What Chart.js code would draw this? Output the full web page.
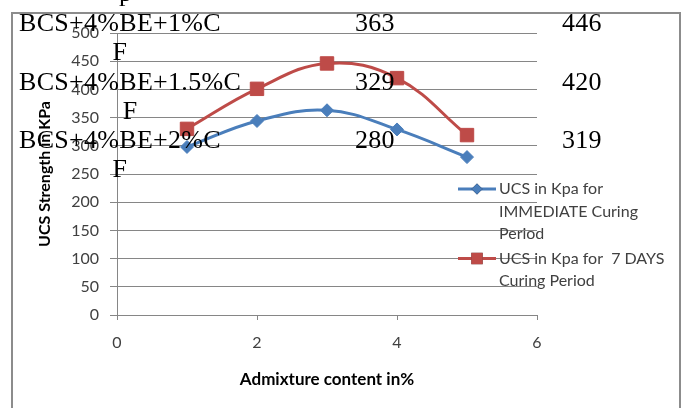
<!DOCTYPE html>
<html>
<head>
<meta charset="utf-8">
<script src="https://cdn.jsdelivr.net/npm/chart.js@4.4.1/dist/chart.umd.min.js"></script>
<style>
  body { margin: 0; background: #fff; }
  #wrap { position: relative; width: 681px; height: 408px; overflow: hidden; }
  #grafico { position: absolute; left: 0; top: 0; }
  #moldura { position: absolute; left: 11px; top: 12px; width: 666px; height: 430px; border: 2px solid #8c8c8c; }
  .tabela { position: absolute; font-family: "Liberation Serif", "Times New Roman", serif; font-size: 26px;
            line-height: 29.2px; color: #000; letter-spacing: 0.3px; white-space: nowrap; }
  .linha { text-align: center; }
</style>
</head>
<body>
<div id="wrap">
  <canvas id="grafico" width="681" height="408"></canvas>
  <div id="moldura"></div>
  <div id="textos"></div>
</div>
<script>
// ======= Dados =======
const admixture = [1, 2, 3, 4, 5];
const ucsImediato = [298, 344, 363, 329, 280];
const ucsSeteDias = [330, 401, 446, 420, 319];
const serieNomes = ["UCS in Kpa for IMMEDIATE Curing Period", "UCS in Kpa for  7 DAYS Curing Period"];
const yTicks = [0, 50, 100, 150, 200, 250, 300, 350, 400, 450, 500];
const xTicks = [0, 2, 4, 6];

// texto da tabela por trás do gráfico
const linhaTopo = "p";
const misturas = ["BCS+4%BE+1%C", "BCS+4%BE+1.5%C", "BCS+4%BE+2%C"];
const misturaFim = "F";
const colImediato = ["363", "329", "280"];
const colSeteDias = ["446", "420", "319"];

// ======= Tabela (texto sobreposto) =======
const textos = document.getElementById("textos");
const topoLinha = 8.1;   // topo da primeira linha da tabela
const passoLinha = 58.4; // duas linhas por linha da tabela

function addTexto(html, left, top, cls) {
  const d = document.createElement("div");
  d.className = "tabela" + (cls ? " " + cls : "");
  d.style.left = left + "px";
  d.style.top = top + "px";
  d.innerHTML = html;
  textos.appendChild(d);
  return d;
}

addTexto(linhaTopo, 119, topoLinha - passoLinha / 2 - 1);
misturas.forEach((m, i) => {
  const top = topoLinha + i * passoLinha;
  addTexto(`<div class="linha">${m}</div><div class="linha">${misturaFim}</div>`, 19, top);
  addTexto(colImediato[i], 355, top);
  addTexto(colSeteDias[i], 562, top);
});

// ======= Legenda =======
const legendaPlugin = {
  id: "legendaLateral",
  afterDraw(chart) {
    const ctx = chart.ctx;
    const x0 = 458, xTexto = 499, maxLarg = 172, altLinha = 22.5;
    let y = 189;
    ctx.save();
    ctx.font = "16px Lato";
    ctx.textBaseline = "middle";
    chart.data.datasets.forEach(ds => {
      // quebra das palavras
      const palavras = ds.label.split(" ");
      const linhas = [];
      let atual = "";
      palavras.forEach(p => {
        const teste = atual === "" ? p : atual + " " + p;
        if (ctx.measureText(teste).width > maxLarg && atual.trim() !== "") {
          linhas.push(atual);
          atual = p;
        } else {
          atual = teste;
        }
      });
      linhas.push(atual);

      ctx.strokeStyle = ds.borderColor;
      ctx.lineWidth = 3;
      ctx.beginPath();
      ctx.moveTo(x0, y);
      ctx.lineTo(xTexto - 3, y);
      ctx.stroke();
      ctx.beginPath();
      Chart.helpers.drawPoint(ctx, {
        pointStyle: ds.pointStyle, radius: ds.pointRadius * 0.85, borderWidth: 0
      }, (x0 + xTexto - 3) / 2, y);
      ctx.fillStyle = ds.borderColor;
      ctx.fill();

      ctx.fillStyle = "#404040";
      linhas.forEach((l, i) => ctx.fillText(l, xTexto, y + i * altLinha));
      y += linhas.length * altLinha + 2;
    });
    ctx.restore();
  }
};

// ======= Gráfico =======
const gridCor = "#868686";
new Chart(document.getElementById("grafico"), {
  type: "line",
  data: {
    datasets: [
      {
        label: serieNomes[0],
        data: admixture.map((x, i) => ({ x, y: ucsImediato[i] })),
        borderColor: "#4A7EBB",
        backgroundColor: "#4A7EBB",
        borderWidth: 3,
        pointStyle: "rectRot",
        pointRadius: 6.5,
        pointBorderWidth: 1,
        tension: 0.4
      },
      {
        label: serieNomes[1],
        data: admixture.map((x, i) => ({ x, y: ucsSeteDias[i] })),
        borderColor: "#BE4B48",
        backgroundColor: "#BE4B48",
        borderWidth: 3,
        pointStyle: "rect",
        pointRadius: 9.5,
        pointBorderWidth: 1,
        tension: 0.4
      }
    ]
  },
  options: {
    responsive: false,
    animation: false,
    devicePixelRatio: 1,
    layout: { padding: { top: 33, right: 144, left: 0, bottom: 0 } },
    plugins: { legend: { display: false }, tooltip: { enabled: false } },
    scales: {
      x: {
        type: "linear",
        min: 0, max: 6,
        afterBuildTicks: s => { s.ticks = xTicks.map(v => ({ value: v })); },
        afterFit: s => { s.height = 93; },
        border: { color: gridCor, width: 1 },
        grid: { drawOnChartArea: false, color: gridCor, tickLength: 5 },
        ticks: { color: "#404040", font: { family: "Lato", size: 16 }, padding: 13 },
        title: {
          display: true, text: "Admixture content in%", color: "#000",
          font: { family: "Lato", size: 17, weight: "bold" }, padding: { top: 0, bottom: 18 }
        }
      },
      y: {
        min: 0, max: 500,
        afterBuildTicks: s => { s.ticks = yTicks.map(v => ({ value: v })); },
        afterFit: s => { s.width = 117; },
        border: { color: gridCor, width: 1 },
        grid: { color: gridCor, tickLength: 7 },
        ticks: { color: "#404040", font: { family: "Lato", size: 16 }, padding: 11 },
        title: {
          display: true, text: "UCS Strength in KPa", color: "#000",
          font: { family: "Lato", size: 16, weight: "bold" }, padding: { top: 35, bottom: 0 }
        }
      }
    }
  },
  plugins: [legendaPlugin]
});
</script>
</body>
</html>
